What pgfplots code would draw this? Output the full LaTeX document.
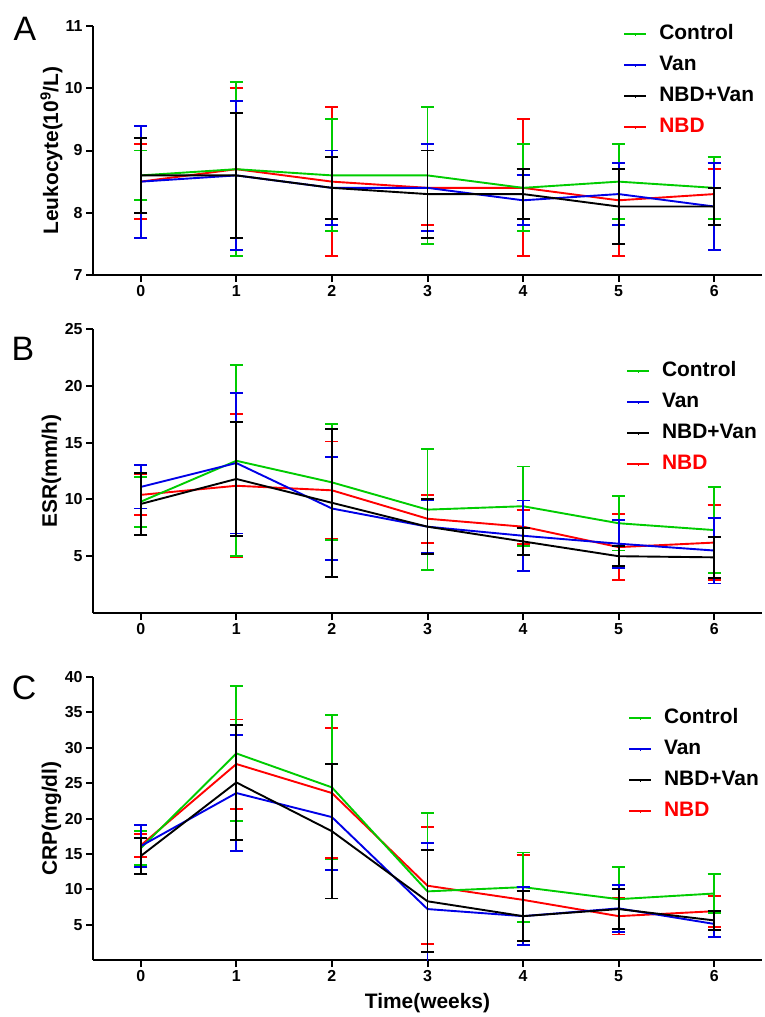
\documentclass[border=0pt]{standalone}
\usepackage{fontspec}
\setmainfont{Liberation Sans}
\usepackage{pgfplots}
\pgfplotsset{compat=1.18}

\definecolor{ctrl}{RGB}{0,204,0}
\definecolor{van}{RGB}{0,0,230}
\definecolor{nbd}{RGB}{255,0,0}

\pgfplotsset{
  panel/.style={
    scale only axis, width=669bp,
    xmin=-0.5, xmax=6.5, xtick={0,...,6},
    axis x line*=bottom, axis y line*=left,
    axis line style={line width=2bp},
    tick style={line width=2bp, black},
    tick align=outside, major tick length=7bp,
    /pgf/number format/assume math mode=true,
    xticklabel style={font=\fontsize{16}{18}\selectfont\bfseries},
    yticklabel style={font=\fontsize{16}{18}\selectfont\bfseries},
    ylabel style={at={(axis description cs:-0.062,0.5)}, anchor=center,
      font=\fontsize{21}{24}\selectfont\bfseries},
    legend style={draw=none, fill=none, anchor=north west,
      font=\fontsize{21}{24}\selectfont\bfseries,
      nodes={inner sep=0bp, text height=15bp, text depth=4bp},
      row sep=12bp},
    legend cell align=left,
    /tikz/every odd column/.append style={column sep=12bp},
    legend image code/.code={
      \draw[##1, line width=2bp] (0bp,0bp) -- (22bp,0bp);
      \draw[##1, line width=1bp] (11bp,-2bp) -- (11bp,0bp);
    },
    error bars/y dir=both, error bars/y explicit,
  },
  ser/.style={color=#1, line width=1.9bp, no marks,
    error bars/error bar style={line width=1.9bp, #1},
    error bars/error mark options={line width=1.9bp, mark size=6.5bp, #1, rotate=90}},
}

\begin{document}
\begin{tikzpicture}
\useasboundingbox (0,0) rectangle (765bp,-1017bp);

% ---------- A ----------
\begin{axis}[panel, at={(93bp,-275bp)}, anchor=south west, height=249bp,
  ymin=7, ymax=11, ytick={7,8,9,10,11},
  ylabel={Leukocyte(10\textsuperscript{9}/L)},
  legend style={at={(0.788,1.016)}}]
\addplot[ser=nbd, forget plot] table[y error index=2] {
0 8.5 0.6
1 8.7 1.3
2 8.5 1.2
3 8.4 0.6
4 8.4 1.1
5 8.2 0.9
6 8.3 0.4
};
\addplot[ser=ctrl] table[y error index=2] {
0 8.6 0.4
1 8.7 1.4
2 8.6 0.9
3 8.6 1.1
4 8.4 0.7
5 8.5 0.6
6 8.4 0.5
};
\addplot[ser=van] table[y error index=2] {
0 8.5 0.9
1 8.6 1.2
2 8.4 0.6
3 8.4 0.7
4 8.2 0.4
5 8.3 0.5
6 8.1 0.7
};
\addplot[ser=black] table[y error index=2] {
0 8.6 0.6
1 8.6 1.0
2 8.4 0.5
3 8.3 0.7
4 8.3 0.4
5 8.1 0.6
6 8.1 0.3
};
\addlegendimage{ser=nbd}
\legend{Control, Van, NBD+Van, \textcolor{nbd}{NBD}}
\end{axis}

% ---------- B ----------
\begin{axis}[panel, at={(93bp,-613bp)}, anchor=south west, height=284bp,
  ymin=0, ymax=25, ytick={5,10,15,20,25},
  ylabel={ESR(mm/h)},
  legend style={at={(0.792,0.894)}}]
\addplot[ser=nbd, forget plot] table[y error index=2] {
0 10.4 1.8
1 11.2 6.3
2 10.8 4.3
3 8.3 2.1
4 7.6 1.5
5 5.8 2.9
6 6.2 3.3
};
\addplot[ser=ctrl] table[y error index=2] {
0 9.8 2.2
1 13.4 8.4
2 11.5 5.1
3 9.1 5.3
4 9.4 3.5
5 7.9 2.4
6 7.3 3.8
};
\addplot[ser=van] table[y error index=2] {
0 11.1 1.9
1 13.2 6.2
2 9.2 4.5
3 7.6 2.3
4 6.8 3.1
5 6.1 2.1
6 5.5 2.9
};
\addplot[ser=black] table[y error index=2] {
0 9.6 2.7
1 11.8 5.0
2 9.7 6.5
3 7.6 2.4
4 6.3 1.2
5 5.0 0.9
6 4.9 1.8
};
\addlegendimage{ser=nbd}
\legend{Control, Van, NBD+Van, \textcolor{nbd}{NBD}}
\end{axis}

% ---------- C ----------
\begin{axis}[panel, at={(93bp,-960bp)}, anchor=south west, height=283bp,
  ymin=0, ymax=40, ytick={5,10,...,40},
  ylabel={CRP(mg/dl)},
  xlabel={Time(weeks)},
  xlabel style={at={(axis description cs:0.5,0)}, yshift=-43bp, anchor=center,
    font=\fontsize{21}{24}\selectfont\bfseries},
  legend style={at={(0.795,0.897)}}]
\addplot[ser=nbd, forget plot] table[y error index=2] {
0 16.2 1.6
1 27.7 6.3
2 23.6 9.2
3 10.5 8.3
4 8.5 6.4
5 6.2 2.6
6 6.9 2.2
};
\addplot[ser=ctrl] table[y error index=2] {
0 15.8 2.4
1 29.2 9.5
2 24.4 10.2
3 9.7 11.1
4 10.3 4.9
5 8.6 4.6
6 9.4 2.7
};
\addplot[ser=van] table[y error index=2] {
0 16.1 3.0
1 23.6 8.2
2 20.2 7.5
3 7.2 9.3
4 6.2 4.1
5 7.3 3.3
6 5.1 1.9
};
\addplot[ser=black] table[y error index=2] {
0 14.7 2.6
1 25.1 8.1
2 18.2 9.5
3 8.3 7.2
4 6.2 3.5
5 7.2 2.8
6 5.6 1.3
};
\addlegendimage{ser=nbd}
\legend{Control, Van, NBD+Van, \textcolor{nbd}{NBD}}
\end{axis}

\node at (25bp,-29bp) {\fontsize{34}{34}\selectfont A};
\node at (23bp,-349bp) {\fontsize{34}{34}\selectfont B};
\node at (24bp,-688bp) {\fontsize{34}{34}\selectfont C};
\end{tikzpicture}
\end{document}
